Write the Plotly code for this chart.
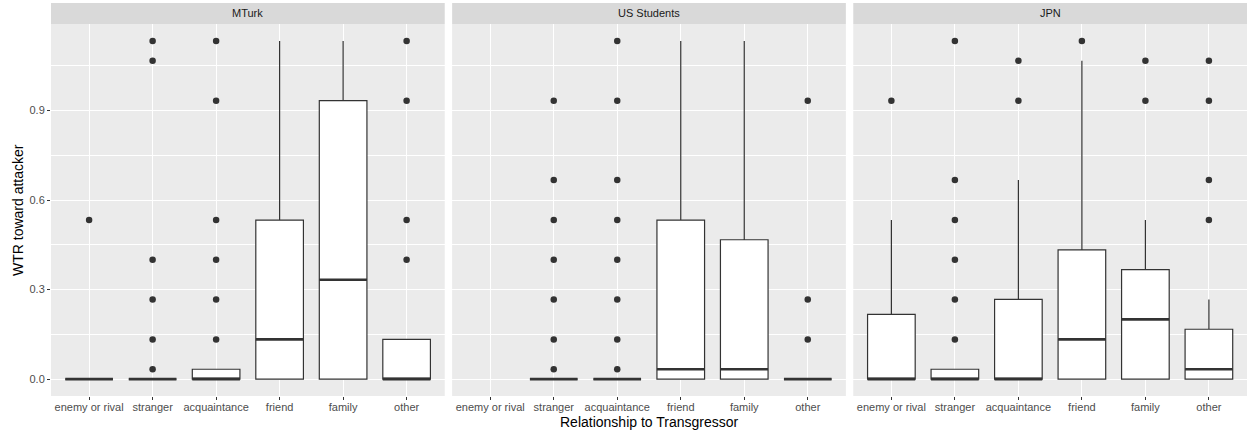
import plotly.graph_objects as go
from plotly.subplots import make_subplots

categories = ["enemy or rival", "stranger", "acquaintance", "friend", "family", "other"]
panels = ["MTurk", "US Students", "JPN"]

# MTurk
mturk_q1 = [0, 0, 0, 0, 0, 0]
mturk_median = [0, 0, 0, 0.133, 0.333, 0]
mturk_q3 = [0, 0, 0.033, 0.533, 0.933, 0.133]
mturk_lower = [0, 0, 0, 0, 0, 0]
mturk_upper = [0, 0, 0.033, 1.133, 1.133, 0.133]
mturk_outliers = [
    [0.533],
    [1.133, 1.067, 0.4, 0.267, 0.133, 0.033],
    [1.133, 0.933, 0.533, 0.4, 0.267, 0.133],
    [],
    [],
    [1.133, 0.933, 0.533, 0.4],
]

# US Students (no data for "enemy or rival")
us_q1 = [None, 0, 0, 0, 0, 0]
us_median = [None, 0, 0, 0.033, 0.033, 0]
us_q3 = [None, 0, 0, 0.533, 0.467, 0]
us_lower = [None, 0, 0, 0, 0, 0]
us_upper = [None, 0, 0, 1.133, 1.133, 0]
us_outliers = [
    [],
    [0.933, 0.667, 0.533, 0.4, 0.267, 0.133, 0.033],
    [1.133, 0.933, 0.667, 0.533, 0.4, 0.267, 0.133, 0.033],
    [],
    [],
    [0.933, 0.267, 0.133],
]

# JPN
jpn_q1 = [0, 0, 0, 0, 0, 0]
jpn_median = [0, 0, 0, 0.133, 0.2, 0.033]
jpn_q3 = [0.217, 0.033, 0.267, 0.433, 0.367, 0.167]
jpn_lower = [0, 0, 0, 0, 0, 0]
jpn_upper = [0.533, 0.033, 0.667, 1.067, 0.533, 0.267]
jpn_outliers = [
    [0.933],
    [1.133, 0.667, 0.533, 0.4, 0.267, 0.133],
    [1.067, 0.933],
    [1.133],
    [1.067, 0.933],
    [1.067, 0.933, 0.667, 0.533],
]

y_tickvals = [0.0, 0.3, 0.6, 0.9]
y_ticktext = ["0.0", "0.3", "0.6", "0.9"]
y_minor = [0.15, 0.45, 0.75, 1.05]

panel_data = [
    (mturk_q1, mturk_median, mturk_q3, mturk_lower, mturk_upper, mturk_outliers),
    (us_q1, us_median, us_q3, us_lower, us_upper, us_outliers),
    (jpn_q1, jpn_median, jpn_q3, jpn_lower, jpn_upper, jpn_outliers),
]

BOX_W = 0.75
LINE = "#333333"
PLOT_H = 372
PLOT_W = 1196

fig = make_subplots(rows=1, cols=3, shared_yaxes=True, horizontal_spacing=0.0062)

for p, (q1, med, q3, lo, up, outl) in enumerate(panel_data):
    col = p + 1
    idx = [i for i in range(len(categories)) if q1[i] is not None]
    xs = [i + 1 for i in idx]
    fig.add_trace(go.Box(
        x=xs,
        q1=[q1[i] for i in idx],
        median=[med[i] for i in idx],
        q3=[q3[i] for i in idx],
        lowerfence=[lo[i] for i in idx],
        upperfence=[up[i] for i in idx],
        width=BOX_W,
        whiskerwidth=0,
        fillcolor="white",
        line=dict(color=LINE, width=1.2),
        boxpoints=False,
        showlegend=False,
    ), row=1, col=col)
    # thick median lines (ggplot style)
    mx, my = [], []
    for i in idx:
        mx += [i + 1 - BOX_W / 2, i + 1 + BOX_W / 2, None]
        my += [med[i], med[i], None]
    fig.add_trace(go.Scatter(x=mx, y=my, mode="lines",
                             line=dict(color=LINE, width=2.6),
                             showlegend=False, hoverinfo="skip"), row=1, col=col)
    # outliers
    ox, oy = [], []
    for i, vals in enumerate(outl):
        for v in vals:
            ox.append(i + 1)
            oy.append(v)
    fig.add_trace(go.Scatter(x=ox, y=oy, mode="markers",
                             marker=dict(color=LINE, size=6.5, line=dict(width=0)),
                             showlegend=False), row=1, col=col)

    xref = "x" if col == 1 else f"x{col}"
    fig.add_shape(type="rect", xref=f"{xref} domain", yref="paper",
                  x0=0, x1=1, y0=1.0, y1=1 + 21 / PLOT_H,
                  fillcolor="#D9D9D9", line=dict(width=0), layer="below")
    fig.add_annotation(text=panels[p], xref=f"{xref} domain", yref="paper",
                       x=0.5, y=1 + 10.5 / PLOT_H, showarrow=False,
                       font=dict(size=11, color="#1A1A1A"),
                       xanchor="center", yanchor="middle")

fig.update_xaxes(range=[0.4, 6.6], tickvals=list(range(1, len(categories) + 1)),
                 ticktext=categories, showgrid=True, gridcolor="white", gridwidth=1.1,
                 ticks="outside", ticklen=3, tickcolor=LINE, tickwidth=1,
                 ticklabelstandoff=-2,
                 tickfont=dict(size=11, color="#4D4D4D"), zeroline=False,
                 showline=False, automargin=False)
fig.update_yaxes(range=[-0.0567, 1.19], tickvals=y_tickvals, ticktext=y_ticktext,
                 showgrid=True, gridcolor="white", gridwidth=1.1,
                 minor=dict(tickvals=y_minor, showgrid=True, gridcolor="white",
                            gridwidth=0.5, ticks=""),
                 ticks="", tickfont=dict(size=11, color="#4D4D4D"), zeroline=False,
                 showline=False, automargin=False)
fig.update_yaxes(ticks="outside", ticklen=3, tickcolor=LINE, tickwidth=1, row=1, col=1)

# axis titles
fig.add_annotation(text="WTR toward attacker", xref="paper", yref="paper",
                   x=-33 / PLOT_W, y=0.5, textangle=-90, showarrow=False,
                   font=dict(size=14, color="black"),
                   xanchor="center", yanchor="middle")
fig.add_annotation(text="Relationship to Transgressor", xref="paper", yref="paper",
                   x=0.5, y=-26 / PLOT_H, showarrow=False,
                   font=dict(size=14, color="black"),
                   xanchor="center", yanchor="middle")

fig.update_layout(
    width=1249, height=433,
    margin=dict(l=51, r=2, t=24, b=37),
    plot_bgcolor="#EBEBEB", paper_bgcolor="white",
    font=dict(family="Liberation Sans, Arial, sans-serif"),
    showlegend=False,
)

fig.write_html("out.html", config={"displayModeBar": False},
               post_script="document.body.style.margin='0';document.body.style.overflow='hidden';")
